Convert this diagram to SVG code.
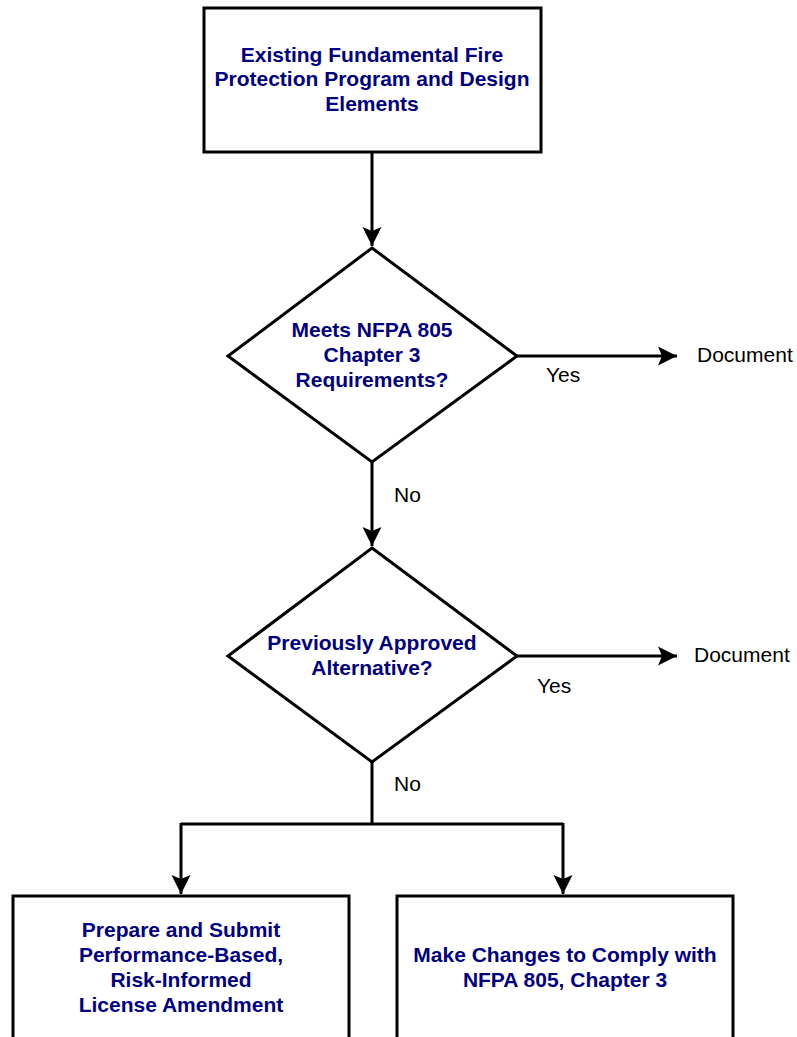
<svg xmlns="http://www.w3.org/2000/svg" width="797" height="1037" viewBox="0 0 797 1037">
<style>
.box{fill:#fff;stroke:#000;stroke-width:3}
.t{font-family:"Liberation Sans",Arial,sans-serif;font-weight:bold;font-size:21px;fill:#000080;text-anchor:middle}
.l{font-family:"Liberation Sans",Arial,sans-serif;font-size:21px;fill:#000}
.c{fill:none;stroke:#000;stroke-width:3}
</style>
<defs>
<marker id="ah" markerUnits="userSpaceOnUse" markerWidth="20" markerHeight="20" viewBox="-20 -10 20 20" refX="0" refY="0" orient="auto">
<path d="M0,0 L-19,-9.5 L-15,0 L-19,9.5 Z" fill="#000"/>
</marker>
</defs>
<rect width="797" height="1037" fill="#fff"/>
<g id="connectors">
<path class="c" d="M372,152 V246" marker-end="url(#ah)"/>
<path class="c" d="M517,356 H677" marker-end="url(#ah)"/>
<path class="c" d="M372,462 V546" marker-end="url(#ah)"/>
<path class="c" d="M517,656 H677" marker-end="url(#ah)"/>
<path class="c" d="M372,762 V824"/>
<path class="c" d="M181,824 H563"/>
<path class="c" d="M181,823 V894" marker-end="url(#ah)"/>
<path class="c" d="M563,823 V894" marker-end="url(#ah)"/>
<text class="l" x="546" y="382">Yes</text>
<text class="l" x="394" y="502">No</text>
<text class="l" x="537" y="693">Yes</text>
<text class="l" x="394" y="791">No</text>
</g>
<g id="n1">
<rect class="box" x="204" y="8" width="337" height="144"/>
<text class="t" x="372" y="62">Existing Fundamental Fire</text>
<text class="t" x="372" y="86">Protection Program and Design</text>
<text class="t" x="372" y="111">Elements</text>
</g>
<g id="d1">
<polygon class="box" points="372,248 517,356 372,462 228,356"/>
<text class="t" x="372" y="337">Meets NFPA 805</text>
<text class="t" x="372" y="362">Chapter 3</text>
<text class="t" x="372" y="387">Requirements?</text>
</g>
<g id="doc1"><text class="l" x="697" y="362">Document</text></g>
<g id="d2">
<polygon class="box" points="372,548 517,656 372,762 228,656"/>
<text class="t" x="372" y="650">Previously Approved</text>
<text class="t" x="372" y="675">Alternative?</text>
</g>
<g id="doc2"><text class="l" x="694" y="662">Document</text></g>
<g id="n2">
<rect class="box" x="13" y="896" width="336" height="160"/>
<text class="t" x="181" y="937">Prepare and Submit</text>
<text class="t" x="181" y="962">Performance-Based,</text>
<text class="t" x="181" y="987">Risk-Informed</text>
<text class="t" x="181" y="1012">License Amendment</text>
</g>
<g id="n3">
<rect class="box" x="397" y="896" width="336" height="160"/>
<text class="t" x="565" y="962">Make Changes to Comply with</text>
<text class="t" x="565" y="987">NFPA 805, Chapter 3</text>
</g>
</svg>
